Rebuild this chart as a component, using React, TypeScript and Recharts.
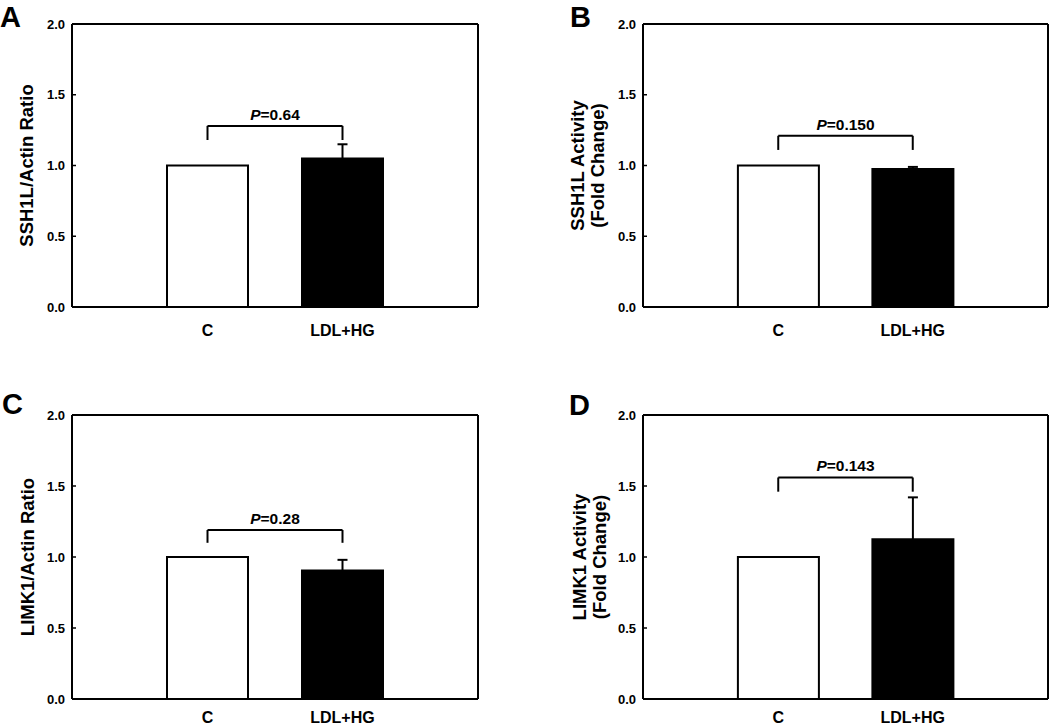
import * as React from "react";

import { Bar, BarChart, Cell, ErrorBar, ReferenceLine, XAxis, YAxis } from "recharts";

const FONT = "Liberation Sans, Arial, Helvetica, sans-serif";

const categories = ["C", "LDL+HG"];
const yTicks = [0, 0.5, 1.0, 1.5, 2.0];

// bar means and SEM (upper part visible)
const ssh1lRatio = [1.0, 1.05];
const ssh1lRatioErr = [0, 0.1];
const ssh1lActivity = [1.0, 0.975];
const ssh1lActivityErr = [0, 0.015];
const limk1Ratio = [1.0, 0.905];
const limk1RatioErr = [0, 0.075];
const limk1Activity = [1.0, 1.125];
const limk1ActivityErr = [0, 0.295];

// significance brackets
const pValues = ["0.64", "0.150", "0.28", "0.143"];
const bracketTop = [1.28, 1.21, 1.19, 1.56];
const bracketLeg = [1.18, 1.11, 1.1, 1.46];

const renderYTick = (props: any) => {
  const { x, y, payload } = props;
  return (
    <g>
      <line x1={x + 7} x2={x + 11} y1={y} y2={y} stroke="#000" strokeWidth={1.5} />
      <text
        x={x}
        y={y}
        dy={4.5}
        textAnchor="end"
        fontSize={13}
        fontWeight="bold"
        fontFamily={FONT}
        fill="#000"
      >
        {Number(payload.value).toFixed(1)}
      </text>
    </g>
  );
};

const pLabel = (p: string) => (props: any) => {
  const vb = props.viewBox;
  return (
    <text
      x={vb.x + vb.width / 2}
      y={vb.y - 6}
      textAnchor="middle"
      fontSize={15.5}
      fontWeight="bold"
      fontFamily={FONT}
      fill="#000"
    >
      <tspan fontStyle="italic">P</tspan>
      {"=" + p}
    </text>
  );
};

const frame = { stroke: "#000", strokeWidth: 2 };

type PanelProps = {
  values: number[];
  errors: number[];
  lines: string[];
  labelX: number;
  idx: number;
  left: number;
  top: number;
  margin: { top: number; right: number; bottom: number; left: number };
  yAxisWidth: number;
  xAxisHeight: number;
  xTickMargin: number;
};

const Panel = ({
  values,
  errors,
  lines,
  labelX,
  idx,
  left,
  top,
  margin,
  yAxisWidth,
  xAxisHeight,
  xTickMargin,
}: PanelProps) => {
  const data = categories.map((name, i) => ({ name, value: values[i], err: errors[i] }));
  const h = 363;
  // the top axis takes 1px, so the plot starts at margin.top + 1
  const plotMid = (margin.top + 1 + (h - margin.bottom - xAxisHeight)) / 2;

  const yLabel = () => (
    <g>
      {lines.map((line, i) => {
        const cx = labelX + (i - (lines.length - 1) / 2) * 20;
        return (
          <text
            key={line}
            x={cx}
            y={plotMid}
            transform={`rotate(-90 ${cx} ${plotMid})`}
            textAnchor="middle"
            dominantBaseline="central"
            fontSize={18.5}
            fontWeight="bold"
            fontFamily={FONT}
            fill="#000"
          >
            {line}
          </text>
        );
      })}
    </g>
  );

  return (
    <div style={{ position: "absolute", left, top }}>
      <BarChart width={525} height={h} data={data} margin={margin} barCategoryGap="20%">
        <XAxis
          dataKey="name"
          padding={{ left: 68, right: 68 }}
          axisLine={frame}
          tickLine={false}
          tickSize={0}
          tickMargin={xTickMargin}
          height={xAxisHeight}
          interval={0}
          tick={{ fill: "#000", fontSize: 16, fontWeight: "bold", fontFamily: FONT }}
        />
        <XAxis
          xAxisId="top"
          orientation="top"
          dataKey="name"
          height={1}
          tick={false}
          tickLine={false}
          axisLine={frame}
        />
        <YAxis
          domain={[0, 2]}
          ticks={yTicks}
          width={yAxisWidth}
          axisLine={frame}
          tickLine={false}
          tickSize={0}
          tickMargin={7}
          interval={0}
          tick={renderYTick}
          label={{ content: yLabel }}
        />
        <YAxis
          yAxisId="right"
          orientation="right"
          domain={[0, 2]}
          width={1}
          tick={false}
          tickLine={false}
          axisLine={frame}
        />
        <Bar dataKey="value" isAnimationActive={false} stroke="#000" strokeWidth={2}>
          {data.map((d, i) => (
            <Cell key={d.name} fill={i === 0 ? "#fff" : "#000"} />
          ))}
          <ErrorBar dataKey="err" direction="y" width={5} stroke="#000" strokeWidth={2} />
        </Bar>
        <ReferenceLine
          segment={[
            { x: categories[0], y: bracketLeg[idx] },
            { x: categories[0], y: bracketTop[idx] },
          ]}
          stroke="#000"
          strokeWidth={2}
        />
        <ReferenceLine
          segment={[
            { x: categories[0], y: bracketTop[idx] },
            { x: categories[1], y: bracketTop[idx] },
          ]}
          stroke="#000"
          strokeWidth={2}
          label={pLabel(pValues[idx])}
        />
        <ReferenceLine
          segment={[
            { x: categories[1], y: bracketTop[idx] },
            { x: categories[1], y: bracketLeg[idx] },
          ]}
          stroke="#000"
          strokeWidth={2}
        />
      </BarChart>
    </div>
  );
};

const letters = [
  { t: "A", x: 0, y: 26.5 },
  { t: "B", x: 570, y: 26.5 },
  { t: "C", x: 2, y: 414 },
  { t: "D", x: 569, y: 415 },
];

const App = () => {
  return (
    <div
      style={{
        position: "absolute",
        left: 0,
        top: 0,
        width: 1050,
        height: 726,
        background: "#fff",
        fontFamily: FONT,
      }}
    >
      <Panel
        values={ssh1lRatio}
        errors={ssh1lRatioErr}
        lines={["SSH1L/Actin Ratio"]}
        labelX={26}
        idx={0}
        left={0}
        top={0}
        margin={{ top: 23, right: 46, bottom: 26, left: 0 }}
        yAxisWidth={72}
        xAxisHeight={30}
        xTickMargin={18}
      />
      <Panel
        values={ssh1lActivity}
        errors={ssh1lActivityErr}
        lines={["SSH1L Activity", "(Fold Change)"]}
        labelX={62.5}
        idx={1}
        left={525}
        top={0}
        margin={{ top: 23, right: 1, bottom: 26, left: 0 }}
        yAxisWidth={118}
        xAxisHeight={30}
        xTickMargin={18}
      />
      <Panel
        values={limk1Ratio}
        errors={limk1RatioErr}
        lines={["LIMK1/Actin Ratio"]}
        labelX={27}
        idx={2}
        left={0}
        top={363}
        margin={{ top: 51, right: 46, bottom: 0, left: 0 }}
        yAxisWidth={72}
        xAxisHeight={27}
        xTickMargin={13}
      />
      <Panel
        values={limk1Activity}
        errors={limk1ActivityErr}
        lines={["LIMK1 Activity", "(Fold Change)"]}
        labelX={64}
        idx={3}
        left={525}
        top={363}
        margin={{ top: 51, right: 1, bottom: 0, left: 0 }}
        yAxisWidth={118}
        xAxisHeight={27}
        xTickMargin={13}
      />
      <svg
        width={1050}
        height={726}
        style={{ position: "absolute", left: 0, top: 0, pointerEvents: "none" }}
      >
        {letters.map((l) => (
          <text key={l.t} x={l.x} y={l.y} fontSize={29} fontWeight="bold" fontFamily={FONT} fill="#000">
            {l.t}
          </text>
        ))}
      </svg>
    </div>
  );
};

export default App;
